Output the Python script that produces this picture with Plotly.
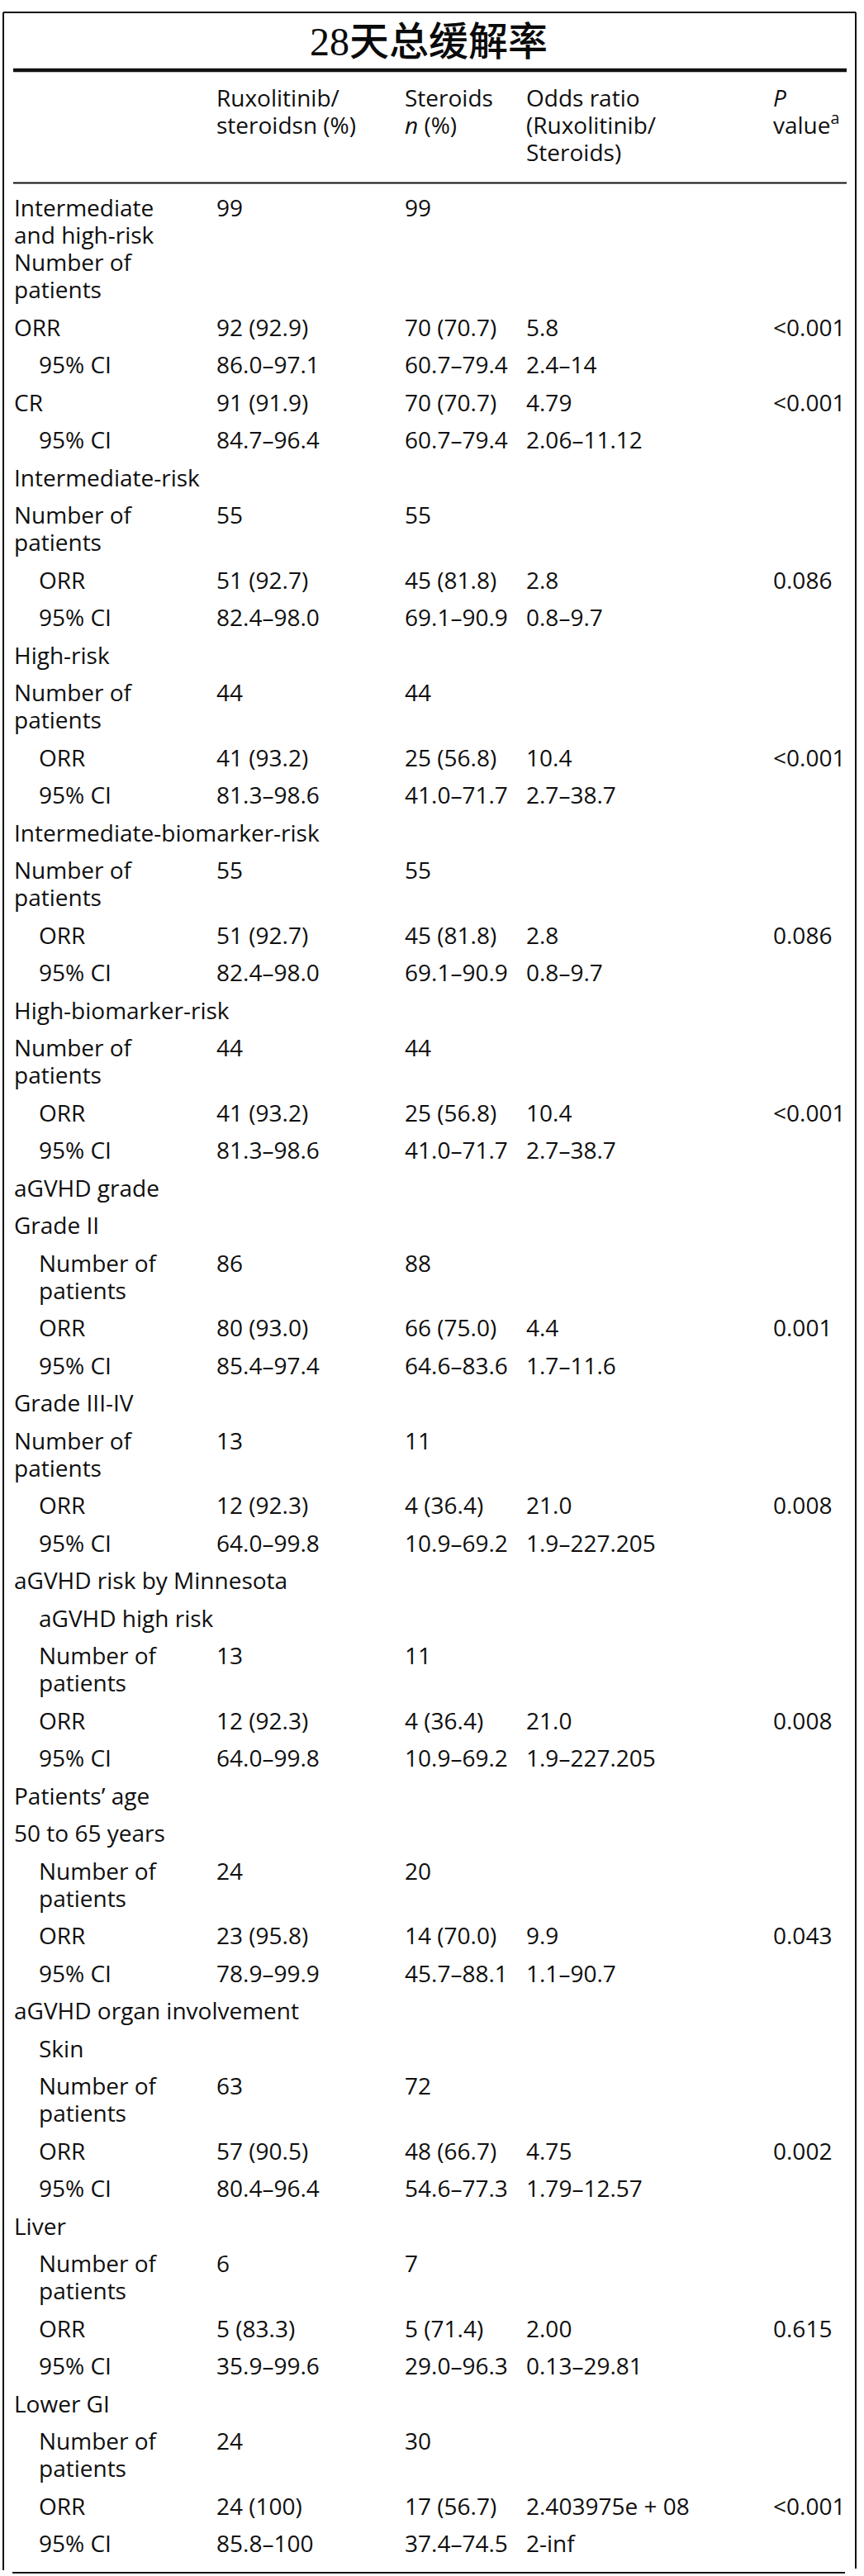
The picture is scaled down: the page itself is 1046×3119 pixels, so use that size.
import plotly.graph_objects as go

# ---------------- data ----------------
title_text = "28天总缓解率"

header_rux = ["Ruxolitinib/", "steroidsn (%)"]
header_ster = ["Steroids", "<i>n</i> (%)"]
header_odds = ["Odds ratio", "(Ruxolitinib/", "Steroids)"]
header_p = ["<i>P</i>", "value<sup>a</sup>"]

row_labels = [
    "Intermediate\nand high-risk\nNumber of\npatients",
    "ORR", "95% CI", "CR", "95% CI",
    "Intermediate-risk", "Number of\npatients", "ORR", "95% CI",
    "High-risk", "Number of\npatients", "ORR", "95% CI",
    "Intermediate-biomarker-risk", "Number of\npatients", "ORR", "95% CI",
    "High-biomarker-risk", "Number of\npatients", "ORR", "95% CI",
    "aGVHD grade", "Grade II", "Number of\npatients", "ORR", "95% CI",
    "Grade III-IV", "Number of\npatients", "ORR", "95% CI",
    "aGVHD risk by Minnesota", "aGVHD high risk", "Number of\npatients", "ORR", "95% CI",
    "Patients’ age", "50 to 65 years", "Number of\npatients", "ORR", "95% CI",
    "aGVHD organ involvement", "Skin", "Number of\npatients", "ORR", "95% CI",
    "Liver", "Number of\npatients", "ORR", "95% CI",
    "Lower GI", "Number of\npatients", "ORR", "95% CI",
]

rux_values = [
    "99", "92 (92.9)", "86.0–97.1", "91 (91.9)", "84.7–96.4",
    "", "55", "51 (92.7)", "82.4–98.0",
    "", "44", "41 (93.2)", "81.3–98.6",
    "", "55", "51 (92.7)", "82.4–98.0",
    "", "44", "41 (93.2)", "81.3–98.6",
    "", "", "86", "80 (93.0)", "85.4–97.4",
    "", "13", "12 (92.3)", "64.0–99.8",
    "", "", "13", "12 (92.3)", "64.0–99.8",
    "", "", "24", "23 (95.8)", "78.9–99.9",
    "", "", "63", "57 (90.5)", "80.4–96.4",
    "", "6", "5 (83.3)", "35.9–99.6",
    "", "24", "24 (100)", "85.8–100",
]

steroid_values = [
    "99", "70 (70.7)", "60.7–79.4", "70 (70.7)", "60.7–79.4",
    "", "55", "45 (81.8)", "69.1–90.9",
    "", "44", "25 (56.8)", "41.0–71.7",
    "", "55", "45 (81.8)", "69.1–90.9",
    "", "44", "25 (56.8)", "41.0–71.7",
    "", "", "88", "66 (75.0)", "64.6–83.6",
    "", "11", "4 (36.4)", "10.9–69.2",
    "", "", "11", "4 (36.4)", "10.9–69.2",
    "", "", "20", "14 (70.0)", "45.7–88.1",
    "", "", "72", "48 (66.7)", "54.6–77.3",
    "", "7", "5 (71.4)", "29.0–96.3",
    "", "30", "17 (56.7)", "37.4–74.5",
]

odds_ratio_values = [
    "", "5.8", "2.4–14", "4.79", "2.06–11.12",
    "", "", "2.8", "0.8–9.7",
    "", "", "10.4", "2.7–38.7",
    "", "", "2.8", "0.8–9.7",
    "", "", "10.4", "2.7–38.7",
    "", "", "", "4.4", "1.7–11.6",
    "", "", "21.0", "1.9–227.205",
    "", "", "", "21.0", "1.9–227.205",
    "", "", "", "9.9", "1.1–90.7",
    "", "", "", "4.75", "1.79–12.57",
    "", "", "2.00", "0.13–29.81",
    "", "", "2.403975e + 08", "2-inf",
]

p_values = [
    "", "<0.001", "", "<0.001", "",
    "", "", "0.086", "",
    "", "", "<0.001", "",
    "", "", "0.086", "",
    "", "", "<0.001", "",
    "", "", "", "0.001", "",
    "", "", "0.008", "",
    "", "", "", "0.008", "",
    "", "", "", "0.043", "",
    "", "", "", "0.002", "",
    "", "", "0.615", "",
    "", "", "<0.001", "",
]

# ---------------- layout / style ----------------
label_indent = [0, 0, 1, 0, 1,
                0, 0, 1, 1,
                0, 0, 1, 1,
                0, 0, 1, 1,
                0, 0, 1, 1,
                0, 0, 1, 1, 1,
                0, 0, 1, 1,
                0, 1, 1, 1, 1,
                0, 0, 1, 1, 1,
                0, 1, 1, 1, 1,
                0, 1, 1, 1,
                0, 1, 1, 1]

W, H = 1046, 3119
COL_X = [17, 262, 490, 637, 936]
INDENT = 30
FONT = "Open Sans, Noto Sans, sans-serif"
FS = 28
LINE = 33.0
STEP = 45.5
BODY_Y0 = 255.0
HEAD_Y0 = 122.0
TEXT_COLOR = "#0f0f0f"


def esc(s):
    return s.replace("<0", "&lt;0")


xs, ys, ts = [], [], []

# header
for c, col in enumerate([header_rux, header_ster, header_odds, header_p]):
    for k, ln in enumerate(col):
        xs.append(COL_X[c + 1]); ys.append(HEAD_Y0 + k * LINE); ts.append(ln)

# body
y = BODY_Y0
for i, lab in enumerate(row_labels):
    lines = lab.split("\n")
    lx = COL_X[0] + (INDENT if label_indent[i] else 0)
    for k, ln in enumerate(lines):
        xs.append(lx); ys.append(y + k * LINE); ts.append(ln)
    for c, arr in enumerate([rux_values, steroid_values, odds_ratio_values, p_values]):
        if arr[i]:
            xs.append(COL_X[c + 1]); ys.append(y); ts.append(esc(arr[i]))
    y += (len(lines) - 1) * LINE + STEP

fig = go.Figure()
fig.add_trace(go.Scatter(
    x=xs, y=ys, text=ts, mode="text", textposition="middle right",
    textfont=dict(family=FONT, size=FS, color=TEXT_COLOR),
    hoverinfo="skip", showlegend=False, cliponaxis=False,
))
fig.add_trace(go.Scatter(
    x=[519], y=[55], text=[title_text], mode="text", textposition="middle center",
    textfont=dict(family="Liberation Serif, Noto Sans CJK SC", size=48,
                  color="#0a0a0a", weight=500),
    hoverinfo="skip", showlegend=False, cliponaxis=False,
))

line_col = "#111111"
shapes = [
    # outer frame (left, top, right)
    dict(type="line", x0=4, x1=4, y0=15, y1=3112, line=dict(color=line_col, width=2)),
    dict(type="line", x0=4, x1=1036, y0=15, y1=15, line=dict(color=line_col, width=2)),
    dict(type="line", x0=1036, x1=1036, y0=15, y1=3110, line=dict(color=line_col, width=2)),
    # table rules
    dict(type="line", x0=16, x1=1025, y0=85, y1=85, line=dict(color=line_col, width=4.5)),
    dict(type="line", x0=16, x1=1025, y0=221.5, y1=221.5, line=dict(color=line_col, width=1.8)),
    dict(type="line", x0=15, x1=1023, y0=3115, y1=3115, line=dict(color=line_col, width=2)),
]
for s in shapes:
    s.update(xref="x", yref="y", layer="above")

fig.update_layout(
    width=W, height=H, margin=dict(l=0, r=0, t=0, b=0),
    paper_bgcolor="white", plot_bgcolor="white",
    xaxis=dict(range=[0, W], visible=False, fixedrange=True),
    yaxis=dict(range=[H, 0], visible=False, fixedrange=True),
    shapes=shapes,
)

fig.write_html("out.html", config={"displayModeBar": False},
               post_script="document.body.style.margin='0';document.body.style.overflow='hidden';")
